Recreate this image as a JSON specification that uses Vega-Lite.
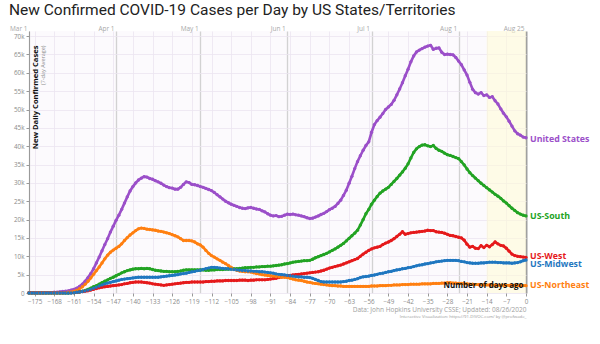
{
  "$schema": "https://vega.github.io/schema/vega-lite/v6.json",
  "width": 497,
  "height": 262,
  "autosize": {"type": "none"},
  "padding": {"left": 29, "top": 31, "right": 74, "bottom": 51},
  "background": "white",
  "title": {
    "text": "New Confirmed COVID-19 Cases per Day by US States/Territories",
    "anchor": "start",
    "frame": "group",
    "dx": -20,
    "offset": -8,
    "baseline": "bottom",
    "font": "Roboto",
    "fontSize": 15.5,
    "fontWeight": "normal",
    "color": "#222222"
  },
  "config": {
    "view": {"stroke": null, "fill": "#fcfafd"}
  },
  "datasets": {
    "band": [{"a": -14, "b": 0}],
    "labels": [
      {"k": "us", "name": "United States", "d": 0, "v": 42.1},
      {"k": "s", "name": "US-South", "d": 0, "v": 20.9},
      {"k": "w", "name": "US-West", "d": 0, "v": 10.0},
      {"k": "mw", "name": "US-Midwest", "d": 0, "v": 8.0},
      {"k": "ne", "name": "US-Northeast", "d": 0, "v": 2.2}
    ],
    "cases": [
      {"d":-177,"us":0,"s":0,"w":0.1,"mw":0,"ne":0},
      {"d":-176,"us":0,"s":0,"w":0.1,"mw":0,"ne":0},
      {"d":-175,"us":0,"s":0,"w":0.1,"mw":0,"ne":0},
      {"d":-174,"us":0,"s":0,"w":0.1,"mw":0,"ne":0},
      {"d":-173,"us":0,"s":0,"w":0.1,"mw":0,"ne":0},
      {"d":-172,"us":0,"s":0,"w":0.1,"mw":0,"ne":0},
      {"d":-171,"us":0.1,"s":0,"w":0.1,"mw":0,"ne":0},
      {"d":-170,"us":0.1,"s":0,"w":0.1,"mw":0,"ne":0},
      {"d":-169,"us":0.1,"s":0,"w":0.1,"mw":0,"ne":0},
      {"d":-168,"us":0.2,"s":0,"w":0.1,"mw":0,"ne":0},
      {"d":-167,"us":0.2,"s":0,"w":0.1,"mw":0,"ne":0},
      {"d":-166,"us":0.3,"s":0,"w":0.1,"mw":0,"ne":0},
      {"d":-165,"us":0.4,"s":0,"w":0.1,"mw":0,"ne":0},
      {"d":-164,"us":0.5,"s":0,"w":0.1,"mw":0,"ne":0.1},
      {"d":-163,"us":0.6,"s":0,"w":0.1,"mw":0,"ne":0.2},
      {"d":-162,"us":0.8,"s":0.1,"w":0.1,"mw":0,"ne":0.3},
      {"d":-161,"us":1.0,"s":0.1,"w":0.1,"mw":0.1,"ne":0.5},
      {"d":-160,"us":1.3,"s":0.2,"w":0.2,"mw":0.2,"ne":0.8},
      {"d":-159,"us":1.8,"s":0.3,"w":0.3,"mw":0.3,"ne":1.2},
      {"d":-158,"us":2.4,"s":0.5,"w":0.4,"mw":0.4,"ne":1.7},
      {"d":-157,"us":3.2,"s":0.7,"w":0.5,"mw":0.6,"ne":2.4},
      {"d":-156,"us":4.2,"s":1.0,"w":0.6,"mw":0.8,"ne":3.2},
      {"d":-155,"us":5.3,"s":1.3,"w":0.8,"mw":1.0,"ne":4.1},
      {"d":-154,"us":6.6,"s":1.7,"w":1.0,"mw":1.3,"ne":5.1},
      {"d":-153,"us":8.2,"s":2.0,"w":1.2,"mw":1.6,"ne":6.1},
      {"d":-152,"us":9.8,"s":2.4,"w":1.4,"mw":1.9,"ne":7.1},
      {"d":-151,"us":11.5,"s":2.8,"w":1.6,"mw":2.2,"ne":8.2},
      {"d":-150,"us":13.2,"s":3.2,"w":1.7,"mw":2.5,"ne":9.3},
      {"d":-149,"us":14.8,"s":3.6,"w":1.8,"mw":2.7,"ne":10.3},
      {"d":-148,"us":16.6,"s":4.0,"w":1.9,"mw":2.9,"ne":11.1},
      {"d":-147,"us":18.2,"s":4.3,"w":2.0,"mw":3.1,"ne":11.7},
      {"d":-146,"us":19.8,"s":4.7,"w":2.1,"mw":3.3,"ne":12.2},
      {"d":-145,"us":21.2,"s":5.1,"w":2.2,"mw":3.5,"ne":12.7},
      {"d":-144,"us":22.8,"s":5.5,"w":2.3,"mw":3.7,"ne":13.4},
      {"d":-143,"us":24.5,"s":5.8,"w":2.5,"mw":3.8,"ne":14.3},
      {"d":-142,"us":26.2,"s":6.1,"w":2.6,"mw":3.9,"ne":15.1},
      {"d":-141,"us":27.8,"s":6.3,"w":2.8,"mw":4.0,"ne":15.8},
      {"d":-140,"us":29.0,"s":6.5,"w":2.9,"mw":4.1,"ne":16.4},
      {"d":-139,"us":30.0,"s":6.6,"w":3.0,"mw":4.2,"ne":17.0},
      {"d":-138,"us":30.8,"s":6.6,"w":3.0,"mw":4.3,"ne":17.5},
      {"d":-137,"us":31.3,"s":6.7,"w":3.0,"mw":4.3,"ne":17.7},
      {"d":-136,"us":31.7,"s":6.6,"w":2.9,"mw":4.3,"ne":17.6},
      {"d":-135,"us":31.6,"s":6.7,"w":2.8,"mw":4.3,"ne":17.4},
      {"d":-134,"us":31.2,"s":6.6,"w":2.7,"mw":4.3,"ne":17.3},
      {"d":-133,"us":31.0,"s":6.4,"w":2.5,"mw":4.3,"ne":17.2},
      {"d":-132,"us":30.6,"s":6.2,"w":2.4,"mw":4.3,"ne":17.1},
      {"d":-131,"us":30.3,"s":6.1,"w":2.3,"mw":4.3,"ne":16.9},
      {"d":-130,"us":29.9,"s":6.0,"w":2.2,"mw":4.4,"ne":16.8},
      {"d":-129,"us":29.4,"s":5.9,"w":2.1,"mw":4.5,"ne":16.6},
      {"d":-128,"us":29.0,"s":5.9,"w":2.2,"mw":4.6,"ne":16.4},
      {"d":-127,"us":28.7,"s":5.8,"w":2.3,"mw":4.7,"ne":16.2},
      {"d":-126,"us":28.6,"s":5.8,"w":2.4,"mw":4.8,"ne":15.9},
      {"d":-125,"us":28.3,"s":5.8,"w":2.5,"mw":4.9,"ne":15.6},
      {"d":-124,"us":28.3,"s":5.9,"w":2.6,"mw":5.0,"ne":15.3},
      {"d":-123,"us":28.8,"s":6.0,"w":2.7,"mw":5.2,"ne":14.8},
      {"d":-122,"us":29.6,"s":6.2,"w":2.8,"mw":5.3,"ne":14.3},
      {"d":-121,"us":30.3,"s":6.3,"w":2.9,"mw":5.4,"ne":14.3},
      {"d":-120,"us":30.1,"s":6.3,"w":2.9,"mw":5.6,"ne":14.3},
      {"d":-119,"us":29.6,"s":6.3,"w":3.0,"mw":5.8,"ne":14.2},
      {"d":-118,"us":29.5,"s":6.3,"w":3.0,"mw":5.9,"ne":13.9},
      {"d":-117,"us":29.3,"s":6.3,"w":3.0,"mw":6.1,"ne":13.4},
      {"d":-116,"us":29.0,"s":6.3,"w":3.0,"mw":6.2,"ne":13.1},
      {"d":-115,"us":28.8,"s":6.3,"w":3.0,"mw":6.4,"ne":12.5},
      {"d":-114,"us":28.5,"s":6.2,"w":3.1,"mw":6.6,"ne":11.6},
      {"d":-113,"us":28.2,"s":6.2,"w":3.1,"mw":6.8,"ne":10.8},
      {"d":-112,"us":27.9,"s":6.3,"w":3.2,"mw":7.0,"ne":10.2},
      {"d":-111,"us":27.4,"s":6.3,"w":3.2,"mw":7.0,"ne":9.8},
      {"d":-110,"us":26.8,"s":6.4,"w":3.3,"mw":6.9,"ne":9.3},
      {"d":-109,"us":26.2,"s":6.4,"w":3.3,"mw":6.8,"ne":8.9},
      {"d":-108,"us":25.6,"s":6.4,"w":3.3,"mw":6.7,"ne":8.4},
      {"d":-107,"us":25.0,"s":6.5,"w":3.4,"mw":6.6,"ne":8.0},
      {"d":-106,"us":24.6,"s":6.5,"w":3.4,"mw":6.6,"ne":7.5},
      {"d":-105,"us":24.2,"s":6.6,"w":3.4,"mw":6.5,"ne":7.0},
      {"d":-104,"us":23.9,"s":6.6,"w":3.4,"mw":6.4,"ne":6.5},
      {"d":-103,"us":23.6,"s":6.6,"w":3.4,"mw":6.3,"ne":6.2},
      {"d":-102,"us":23.3,"s":6.7,"w":3.5,"mw":6.2,"ne":6.0},
      {"d":-101,"us":23.1,"s":6.8,"w":3.5,"mw":6.1,"ne":5.9},
      {"d":-100,"us":23.0,"s":6.9,"w":3.5,"mw":6.1,"ne":5.8},
      {"d":-99,"us":23.2,"s":6.9,"w":3.4,"mw":6.0,"ne":5.8},
      {"d":-98,"us":23.3,"s":7.0,"w":3.5,"mw":6.0,"ne":5.7},
      {"d":-97,"us":23.1,"s":7.0,"w":3.5,"mw":5.9,"ne":5.5},
      {"d":-96,"us":22.9,"s":7.1,"w":3.6,"mw":5.9,"ne":5.3},
      {"d":-95,"us":22.8,"s":7.1,"w":3.6,"mw":5.8,"ne":5.2},
      {"d":-94,"us":22.4,"s":7.2,"w":3.6,"mw":5.8,"ne":5.0},
      {"d":-93,"us":22.1,"s":7.2,"w":3.6,"mw":5.7,"ne":4.9},
      {"d":-92,"us":21.6,"s":7.3,"w":3.7,"mw":5.6,"ne":4.8},
      {"d":-91,"us":21.2,"s":7.3,"w":3.8,"mw":5.5,"ne":4.7},
      {"d":-90,"us":21.0,"s":7.4,"w":3.9,"mw":5.4,"ne":4.6},
      {"d":-89,"us":21.1,"s":7.5,"w":4.0,"mw":5.2,"ne":4.5},
      {"d":-88,"us":20.8,"s":7.6,"w":4.2,"mw":5.1,"ne":4.4},
      {"d":-87,"us":20.9,"s":7.7,"w":4.4,"mw":5.0,"ne":4.3},
      {"d":-86,"us":21.2,"s":7.9,"w":4.6,"mw":4.9,"ne":4.3},
      {"d":-85,"us":21.5,"s":8.0,"w":4.7,"mw":4.8,"ne":4.2},
      {"d":-84,"us":21.4,"s":8.2,"w":4.8,"mw":4.7,"ne":4.0},
      {"d":-83,"us":21.5,"s":8.4,"w":4.9,"mw":4.6,"ne":3.8},
      {"d":-82,"us":21.3,"s":8.5,"w":5.0,"mw":4.5,"ne":3.6},
      {"d":-81,"us":21.2,"s":8.6,"w":5.1,"mw":4.4,"ne":3.5},
      {"d":-80,"us":21.0,"s":8.7,"w":5.2,"mw":4.4,"ne":3.4},
      {"d":-79,"us":20.8,"s":8.8,"w":5.3,"mw":4.3,"ne":3.2},
      {"d":-78,"us":20.5,"s":8.8,"w":5.4,"mw":4.3,"ne":3.0},
      {"d":-77,"us":20.3,"s":8.9,"w":5.5,"mw":4.2,"ne":2.9},
      {"d":-76,"us":20.4,"s":9.2,"w":5.6,"mw":4.0,"ne":2.7},
      {"d":-75,"us":20.7,"s":9.6,"w":5.7,"mw":3.7,"ne":2.6},
      {"d":-74,"us":21.0,"s":9.9,"w":5.8,"mw":3.4,"ne":2.5},
      {"d":-73,"us":21.4,"s":10.2,"w":6.0,"mw":3.1,"ne":2.4},
      {"d":-72,"us":21.7,"s":10.5,"w":6.2,"mw":3.0,"ne":2.3},
      {"d":-71,"us":22.2,"s":10.8,"w":6.5,"mw":3.0,"ne":2.2},
      {"d":-70,"us":22.7,"s":11.2,"w":6.8,"mw":3.0,"ne":2.1},
      {"d":-69,"us":23.1,"s":11.6,"w":7.0,"mw":3.0,"ne":2.0},
      {"d":-68,"us":23.6,"s":12.0,"w":7.2,"mw":3.0,"ne":2.0},
      {"d":-67,"us":24.4,"s":12.5,"w":7.4,"mw":3.0,"ne":1.9},
      {"d":-66,"us":25.3,"s":13.0,"w":7.6,"mw":3.0,"ne":1.9},
      {"d":-65,"us":26.6,"s":13.5,"w":7.9,"mw":3.1,"ne":1.8},
      {"d":-64,"us":28.0,"s":14.2,"w":8.2,"mw":3.2,"ne":1.8},
      {"d":-63,"us":29.9,"s":14.9,"w":8.5,"mw":3.4,"ne":1.8},
      {"d":-62,"us":31.8,"s":15.6,"w":8.8,"mw":3.5,"ne":1.8},
      {"d":-61,"us":33.9,"s":16.3,"w":9.1,"mw":3.7,"ne":1.8},
      {"d":-60,"us":35.8,"s":17.1,"w":9.4,"mw":3.9,"ne":1.8},
      {"d":-59,"us":37.4,"s":18.5,"w":10.0,"mw":4.2,"ne":1.8},
      {"d":-58,"us":38.9,"s":20.0,"w":10.6,"mw":4.4,"ne":1.8},
      {"d":-57,"us":40.2,"s":21.6,"w":11.1,"mw":4.5,"ne":1.8},
      {"d":-56,"us":41.2,"s":22.8,"w":11.6,"mw":4.6,"ne":1.8},
      {"d":-55,"us":43.8,"s":24.2,"w":12.0,"mw":4.8,"ne":1.9},
      {"d":-54,"us":45.9,"s":25.3,"w":12.3,"mw":4.9,"ne":1.9},
      {"d":-53,"us":47.0,"s":26.3,"w":12.5,"mw":5.1,"ne":1.9},
      {"d":-52,"us":47.9,"s":27.2,"w":12.7,"mw":5.3,"ne":2.0},
      {"d":-51,"us":48.9,"s":27.8,"w":13.2,"mw":5.4,"ne":2.0},
      {"d":-50,"us":50.0,"s":28.3,"w":13.6,"mw":5.6,"ne":2.0},
      {"d":-49,"us":50.7,"s":28.8,"w":13.9,"mw":5.8,"ne":2.1},
      {"d":-48,"us":51.4,"s":29.6,"w":14.3,"mw":5.9,"ne":2.1},
      {"d":-47,"us":52.5,"s":30.4,"w":14.8,"mw":6.1,"ne":2.2},
      {"d":-46,"us":54.0,"s":31.2,"w":15.4,"mw":6.3,"ne":2.2},
      {"d":-45,"us":55.6,"s":32.1,"w":16.0,"mw":6.4,"ne":2.2},
      {"d":-44,"us":57.3,"s":33.0,"w":16.7,"mw":6.6,"ne":2.3},
      {"d":-43,"us":59.2,"s":34.0,"w":16.0,"mw":6.7,"ne":2.3},
      {"d":-42,"us":61.0,"s":35.2,"w":16.2,"mw":6.9,"ne":2.3},
      {"d":-41,"us":63.0,"s":36.8,"w":16.4,"mw":7.0,"ne":2.4},
      {"d":-40,"us":64.6,"s":38.3,"w":16.5,"mw":7.2,"ne":2.4},
      {"d":-39,"us":65.7,"s":39.3,"w":16.6,"mw":7.4,"ne":2.4},
      {"d":-38,"us":66.2,"s":39.9,"w":16.7,"mw":7.6,"ne":2.4},
      {"d":-37,"us":66.6,"s":40.3,"w":16.8,"mw":7.7,"ne":2.5},
      {"d":-36,"us":67.0,"s":40.4,"w":16.9,"mw":7.9,"ne":2.5},
      {"d":-35,"us":67.3,"s":40.1,"w":17.1,"mw":8.0,"ne":2.5},
      {"d":-34,"us":67.5,"s":39.9,"w":17.0,"mw":8.2,"ne":2.5},
      {"d":-33,"us":66.4,"s":40.2,"w":17.0,"mw":8.3,"ne":2.6},
      {"d":-32,"us":66.7,"s":39.4,"w":16.7,"mw":8.5,"ne":2.6},
      {"d":-31,"us":66.8,"s":38.9,"w":16.6,"mw":8.6,"ne":2.6},
      {"d":-30,"us":65.6,"s":38.6,"w":16.5,"mw":8.7,"ne":2.7},
      {"d":-29,"us":65.0,"s":38.1,"w":16.3,"mw":8.8,"ne":2.7},
      {"d":-28,"us":65.1,"s":37.7,"w":16.0,"mw":8.9,"ne":2.8},
      {"d":-27,"us":65.0,"s":37.5,"w":15.7,"mw":8.9,"ne":2.8},
      {"d":-26,"us":64.9,"s":37.2,"w":15.6,"mw":8.9,"ne":2.7},
      {"d":-25,"us":64.2,"s":36.9,"w":15.4,"mw":8.9,"ne":2.7},
      {"d":-24,"us":63.2,"s":36.6,"w":15.2,"mw":8.8,"ne":2.6},
      {"d":-23,"us":62.2,"s":35.8,"w":15.0,"mw":8.6,"ne":2.6},
      {"d":-22,"us":60.8,"s":34.9,"w":14.4,"mw":8.5,"ne":2.5},
      {"d":-21,"us":59.4,"s":33.8,"w":13.3,"mw":8.3,"ne":2.5},
      {"d":-20,"us":57.4,"s":32.8,"w":12.5,"mw":8.2,"ne":2.4},
      {"d":-19,"us":55.5,"s":32.0,"w":12.7,"mw":8.1,"ne":2.4},
      {"d":-18,"us":54.6,"s":31.3,"w":12.2,"mw":8.1,"ne":2.3},
      {"d":-17,"us":54.2,"s":30.6,"w":12.1,"mw":8.1,"ne":2.3},
      {"d":-16,"us":54.6,"s":29.9,"w":12.9,"mw":8.2,"ne":2.3},
      {"d":-15,"us":53.8,"s":29.3,"w":12.4,"mw":8.2,"ne":2.2},
      {"d":-14,"us":54.0,"s":28.7,"w":13.0,"mw":8.3,"ne":2.2},
      {"d":-13,"us":53.3,"s":28.1,"w":12.6,"mw":8.4,"ne":2.2},
      {"d":-12,"us":53.5,"s":27.5,"w":13.2,"mw":8.4,"ne":2.2},
      {"d":-11,"us":52.4,"s":26.9,"w":13.9,"mw":8.4,"ne":2.1},
      {"d":-10,"us":51.5,"s":26.4,"w":13.4,"mw":8.3,"ne":2.1},
      {"d":-9,"us":50.2,"s":25.8,"w":13.0,"mw":8.3,"ne":2.1},
      {"d":-8,"us":49.0,"s":25.1,"w":12.8,"mw":8.2,"ne":2.1},
      {"d":-7,"us":48.0,"s":24.5,"w":12.2,"mw":8.2,"ne":2.1},
      {"d":-6,"us":46.8,"s":23.8,"w":11.4,"mw":8.2,"ne":2.1},
      {"d":-5,"us":45.5,"s":23.1,"w":10.6,"mw":8.1,"ne":2.1},
      {"d":-4,"us":44.2,"s":22.5,"w":10.2,"mw":8.2,"ne":2.1},
      {"d":-3,"us":43.4,"s":21.9,"w":10.0,"mw":8.3,"ne":2.0},
      {"d":-2,"us":43.0,"s":21.5,"w":9.9,"mw":8.5,"ne":2.0},
      {"d":-1,"us":42.5,"s":21.2,"w":9.8,"mw":8.8,"ne":2.0},
      {"d":0,"us":42.3,"s":21.0,"w":9.7,"mw":9.0,"ne":2.0}
    ]
  },
  "resolve": {"axis": {"x": "independent", "y": "independent"}},
  "layer": [
    {
      "data": {"name": "band"},
      "mark": {"type": "rect", "fill": "#fffbd5", "opacity": 0.55},
      "encoding": {
        "x": {
          "field": "a", "type": "quantitative",
          "scale": {"domain": [-177, 0], "nice": false, "zero": false},
          "axis": {
            "orient": "top",
            "values": [-177, -146, -116, -85, -55, -24, 0],
            "labelExpr": "datum.value==-177?'Mar 1':datum.value==-146?'Apr 1':datum.value==-116?'May 1':datum.value==-85?'Jun 1':datum.value==-55?'Jul 1':datum.value==-24?'Aug 1':'Aug 25'",
            "grid": true,
            "gridColor": {"condition": {"test": "datum.value==0", "value": "#a0a0a0"}, "value": "#d2d2d2"},
            "gridWidth": {"condition": {"test": "datum.value==0", "value": 2}, "value": 1.3},
            "ticks": false,
            "tickSize": 0,
            "domain": false,
            "labelAlign": "right",
            "labelBaseline": "bottom",
            "labelPadding": 0,
            "labelOffset": -2,
            "labelFont": "Open Sans",
            "labelFontSize": 6.5,
            "labelColor": "#a8a8a8",
            "labelFlush": false,
            "labelOverlap": false,
            "title": null
          }
        },
        "x2": {"field": "b"}
      }
    },
    {
      "data": {"name": "cases"},
      "transform": [{"fold": ["us", "s", "w", "ne", "mw"], "as": ["k", "v"]}],
      "mark": {"type": "line", "strokeWidth": 2.6},
      "encoding": {
        "x": {
          "field": "d", "type": "quantitative",
          "scale": {"domain": [-177, 0], "nice": false, "zero": false},
          "axis": {
            "orient": "bottom",
            "values": [-175, -168, -161, -154, -147, -140, -133, -126, -119, -112, -105, -98, -91, -84, -77, -70, -63, -56, -49, -42, -35, -28, -21, -14, -7, 0],
            "grid": true,
            "gridColor": {"condition": {"test": "datum.value==0", "value": "transparent"}, "value": "#ebe5f0"},
            "gridWidth": 0.8,
            "domain": false,
            "ticks": true,
            "tickSize": 3,
            "tickColor": "#999999",
            "labelFont": "Open Sans",
            "labelFontSize": 6.3,
            "labelColor": "#8a8a8a",
            "labelPadding": 2,
            "labelFlush": false,
            "labelOverlap": false,
            "title": null
          }
        },
        "y": {
          "field": "v", "type": "quantitative",
          "scale": {"domain": [0, 71.4], "nice": false, "zero": true},
          "axis": {
            "orient": "left",
            "values": [0, 5, 10, 15, 20, 25, 30, 35, 40, 45, 50, 55, 60, 65, 70],
            "labelExpr": "datum.value==0?'0':datum.value+'k'",
            "grid": true,
            "gridColor": "#ebe5f0",
            "gridWidth": 0.8,
            "domain": true,
            "domainColor": "#9a9a9a",
            "ticks": true,
            "tickSize": 3,
            "tickColor": "#999999",
            "labelFont": "Open Sans",
            "labelFontSize": 6.3,
            "labelColor": "#8a8a8a",
            "labelPadding": 2,
            "title": "New Daily Confirmed Cases",
            "titleFont": "Open Sans",
            "titleFontSize": 7.6,
            "titleFontWeight": "bold",
            "titleColor": "#111111",
            "titleAngle": -90,
            "titleAlign": "right",
            "titleBaseline": "top",
            "titleX": 2,
            "titleY": 14
          }
        },
        "color": {
          "field": "k", "type": "nominal",
          "scale": {"domain": ["us", "s", "w", "mw", "ne"], "range": ["#9b4fc9", "#22a323", "#e5191b", "#1f77c0", "#ff7f10"]},
          "legend": null
        },
        "detail": {"field": "k"}
      }
    },
    {
      "data": {"name": "cases"},
      "transform": [{"fold": ["us", "s", "w", "ne", "mw"], "as": ["k", "v"]}],
      "mark": {"type": "point", "filled": true, "size": 11, "opacity": 1},
      "encoding": {
        "x": {
          "field": "d", "type": "quantitative",
          "scale": {"domain": [-177, 0], "nice": false, "zero": false},
          "axis": {
            "orient": "bottom",
            "labels": false, "ticks": false, "domain": false, "grid": false,
            "title": "Interactive Visualization: https://91-DIVOC.com/ by @profwade_",
            "titleFont": "Open Sans",
            "titleFontSize": 4.3,
            "titleFontWeight": "normal",
            "titleColor": "#9a9a9a",
            "titleAlign": "right",
            "titleBaseline": "middle",
            "titleX": 497,
            "titleY": 23
          }
        },
        "y": {"field": "v", "type": "quantitative", "scale": {"domain": [0, 71.4], "nice": false}, "axis": null},
        "color": {"field": "k", "type": "nominal", "scale": {"domain": ["us", "s", "w", "mw", "ne"], "range": ["#9b4fc9", "#22a323", "#e5191b", "#1f77c0", "#ff7f10"]}, "legend": null}
      }
    },
    {
      "data": {"name": "labels"},
      "mark": {"type": "text", "align": "left", "baseline": "middle", "dx": 4, "font": "Open Sans", "fontSize": 8.8, "fontWeight": "bold"},
      "encoding": {
        "x": {
          "field": "d", "type": "quantitative",
          "scale": {"domain": [-177, 0], "nice": false, "zero": false},
          "axis": {
            "orient": "bottom",
            "labels": false, "ticks": false, "domain": false, "grid": false,
            "title": "Data: John Hopkins University CSSE; Updated: 08/26/2020",
            "titleFont": "Open Sans",
            "titleFontSize": 6.5,
            "titleFontWeight": "normal",
            "titleColor": "#a0a0a0",
            "titleAlign": "right",
            "titleBaseline": "middle",
            "titleX": 497,
            "titleY": 16
          }
        },
        "y": {
          "field": "v", "type": "quantitative",
          "scale": {"domain": [0, 71.4], "nice": false},
          "axis": {
            "orient": "left",
            "labels": false, "ticks": false, "domain": false, "grid": false,
            "title": "(7-day Average)",
            "titleFont": "Open Sans",
            "titleFontSize": 5.5,
            "titleFontWeight": "normal",
            "titleColor": "#8a8a8a",
            "titleAngle": -90,
            "titleAlign": "right",
            "titleBaseline": "top",
            "titleX": 11,
            "titleY": 14
          }
        },
        "text": {"field": "name"},
        "color": {"field": "k", "type": "nominal", "scale": {"domain": ["us", "s", "w", "mw", "ne"], "range": ["#9b4fc9", "#22a323", "#e5191b", "#1f77c0", "#ff7f10"]}, "legend": null}
      }
    },
    {
      "data": {"name": "labels"},
      "mark": {"type": "point", "opacity": 0},
      "encoding": {
        "x": {
          "field": "d", "type": "quantitative",
          "scale": {"domain": [-177, 0], "nice": false, "zero": false},
          "axis": {
            "orient": "bottom",
            "zindex": 2,
            "labels": false, "ticks": false, "domain": false, "grid": false,
            "title": "Number of days ago",
            "titleFont": "Open Sans",
            "titleFontSize": 8,
            "titleFontWeight": "bold",
            "titleColor": "#111111",
            "titleAlign": "right",
            "titleBaseline": "bottom",
            "titleX": 494,
            "titleY": -4
          }
        },
        "y": {"field": "v", "type": "quantitative", "scale": {"domain": [0, 71.4], "nice": false}, "axis": null}
      }
    }
  ]
}
